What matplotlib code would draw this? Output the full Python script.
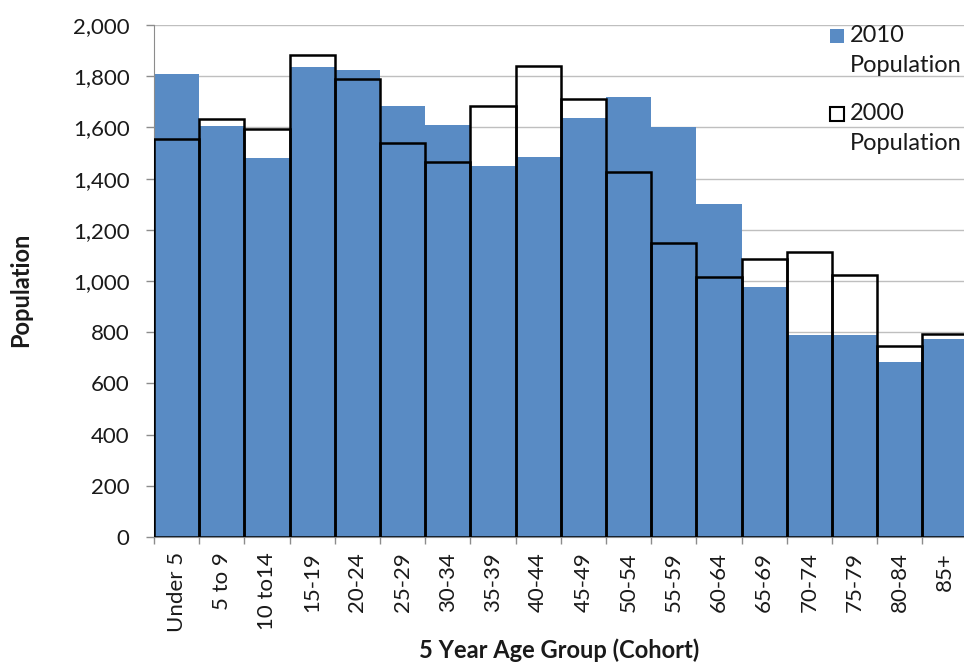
import matplotlib
matplotlib.use("Agg")
import matplotlib.pyplot as plt
from matplotlib.patches import Rectangle

age_groups = ["Under 5", "5 to 9", "10 to14", "15-19", "20-24", "25-29",
              "30-34", "35-39", "40-44", "45-49", "50-54", "55-59",
              "60-64", "65-69", "70-74", "75-79", "80-84", "85+"]
pop_2010 = [1807, 1606, 1479, 1836, 1824, 1682, 1611, 1451, 1484,
            1635, 1720, 1602, 1301, 978, 789, 789, 684, 772]
pop_2000 = [1555, 1633, 1595, 1882, 1788, 1539, 1465, 1685, 1841,
            1712, 1427, 1150, 1015, 1084, 1114, 1023, 745, 793]
y_ticks = list(range(0, 2001, 200))

BLUE = "#598BC4"
GRID = "#BFBFBF"
AXIS_GRAY = "#8C8C8C"
TEXT = "#1a1a1a"

plt.rcParams["font.family"] = ["Lato", "DejaVu Sans"]

W, H = 964, 664
fig = plt.figure(figsize=(W / 100, H / 100), dpi=100)
ax = fig.add_axes([154 / W, (H - 537) / H, 813.6 / W, 512 / H])

x = list(range(len(age_groups)))
ax.bar(x, pop_2010, width=1.0, color=BLUE, edgecolor="none", zorder=2)
ax.bar(x, pop_2000, width=1.0, facecolor="none", edgecolor="black",
       linewidth=1.8, zorder=3)

ax.set_xlim(-0.5, len(age_groups) - 0.5)
ax.set_ylim(0, 2000)
ax.set_yticks(y_ticks)
ax.yaxis.set_major_formatter(lambda v, p: f"{int(v):,}")
ax.grid(axis="y", color=GRID, linewidth=1, zorder=0)
ax.set_axisbelow(True)

ax.set_xticks(x)
ax.set_xticklabels(age_groups, rotation=90)
ax.set_xticks([i - 0.5 for i in range(len(age_groups) + 1)], minor=True)
ax.tick_params(axis="x", which="major", length=0, pad=11, labelsize=16,
               labelcolor=TEXT)
ax.tick_params(axis="x", which="minor", length=5, width=1, color=AXIS_GRAY)
ax.tick_params(axis="y", length=5.5, width=1, color=AXIS_GRAY, pad=12,
               labelsize=16, labelcolor=TEXT)

for side in ("top", "right"):
    ax.spines[side].set_visible(False)
ax.spines["left"].set_color(AXIS_GRAY)
ax.spines["bottom"].set_color(AXIS_GRAY)

fig.text(21 / W, 1 - 290 / H, "Population", rotation=90, fontsize=17,
         fontweight="bold", ha="center", va="center", color=TEXT)
fig.text(559 / W, 1 - 650 / H, "5 Year Age Group (Cohort)", fontsize=17,
         fontweight="bold", ha="center", va="center", color=TEXT)

# legend drawn by hand so the swatch sits beside the first text line
entries = [("2010", BLUE, "none", 29), ("2000", "white", "black", 107)]
for year, face, edge, top in entries:
    fig.patches.append(Rectangle((830 / W, 1 - (top + 14) / H), 14 / W, 14 / H,
                                 transform=fig.transFigure, facecolor=face,
                                 edgecolor=edge, linewidth=1.5))
    fig.text(850 / W, 1 - (top + 7) / H, year, fontsize=17, ha="left",
             va="center", color=TEXT)
    fig.text(850 / W, 1 - (top + 37) / H, "Population", fontsize=17,
             ha="left", va="center", color=TEXT)

fig.savefig("out.png", dpi=100)
